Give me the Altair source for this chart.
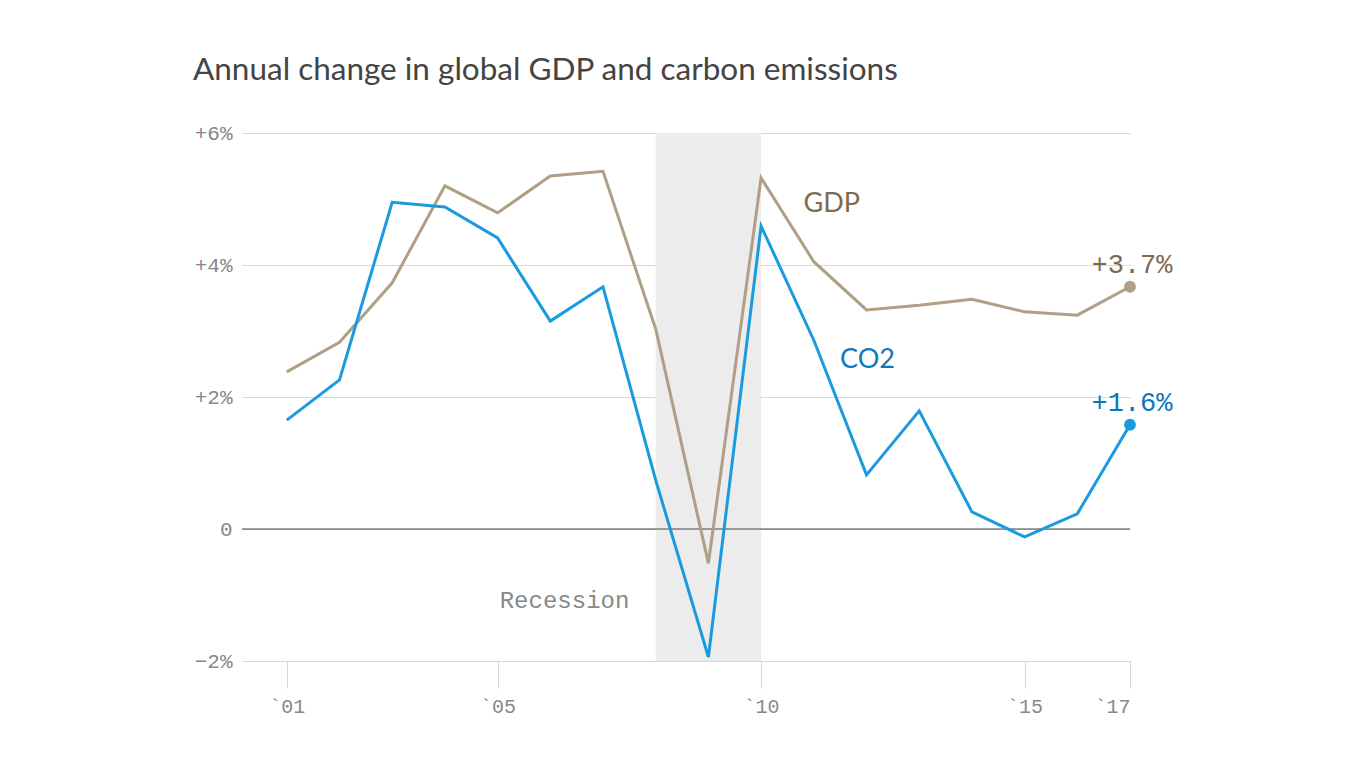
import altair as alt
import pandas as pd

years = list(range(2001, 2018))
gdp = [2.38, 2.83, 3.73, 5.20, 4.79, 5.35, 5.42, 3.03, -0.52, 5.32, 4.05, 3.32, 3.39, 3.48, 3.29, 3.24, 3.67]
co2 = [1.65, 2.26, 4.95, 4.88, 4.41, 3.15, 3.67, 0.74, -1.94, 4.59, 2.86, 0.82, 1.79, 0.26, -0.12, 0.23, 1.58]

x_ticks = [2001, 2005, 2010, 2015, 2017]
y_ticks = [-2, 0, 2, 4, 6]
recession = {"start": 2008, "end": 2010}

GDP_C = "#b09e87"
GDP_T = "#7e6a50"
CO2_C = "#1a9be0"
CO2_T = "#0b78bd"
MONO = "Liberation Mono"
SANS = "Lato"

lines = pd.DataFrame(
    [{"year": y, "value": v, "series": "GDP", "lc": GDP_C, "tc": GDP_T} for y, v in zip(years, gdp)]
    + [{"year": y, "value": v, "series": "CO2", "lc": CO2_C, "tc": CO2_T} for y, v in zip(years, co2)]
)
ends = lines[lines["year"] == years[-1]].copy()
ends["label"] = ends["value"].map(lambda v: f"+{v:.1f}%")

xs = alt.Scale(domain=[2000.15, 2017], nice=False, zero=False)
ys = alt.Scale(domain=[-2, 6], nice=False)

xaxis = alt.Axis(
    values=x_ticks, labelExpr="'`' + slice(toString(datum.value), 2)",
    title=None, domain=False, grid=False, ticks=True, tickSize=27,
    tickColor="#d6d6d6", tickWidth=1, labelFont=MONO, labelFontSize=20,
    labelColor="#888888", labelPadding=8,
)
yaxis = alt.Axis(
    values=y_ticks,
    labelExpr="datum.value > 0 ? '+' + datum.value + '%' : (datum.value == 0 ? '0' : '\u2212' + abs(datum.value) + '%')",
    title=None, domain=False, ticks=False, grid=True, gridColor="#d9d9d9",
    gridWidth=1, labelFont=MONO, labelFontSize=21, labelColor="#888888",
    labelPadding=10,
)

rect = alt.Chart(pd.DataFrame([{"x": recession["start"], "x2": recession["end"], "y": -2, "y2": 6}])).mark_rect(
    color="#ececec"
).encode(
    x=alt.X("x:Q", scale=xs, axis=xaxis),
    x2="x2:Q",
    y=alt.Y("y:Q", scale=ys, axis=yaxis),
    y2="y2:Q",
)

zero = alt.Chart(pd.DataFrame([{"y": 0, "x": 2000.15, "x2": 2017}])).mark_rule(
    color="#444444", strokeWidth=1
).encode(x=alt.X("x:Q", scale=xs), x2="x2:Q", y=alt.Y("y:Q", scale=ys))

line = alt.Chart(lines).mark_line(strokeWidth=3).encode(
    x=alt.X("year:Q", scale=xs),
    y=alt.Y("value:Q", scale=ys),
    detail="series:N",
    color=alt.Color("lc:N", scale=None),
)

dots = alt.Chart(ends).mark_circle(size=140, opacity=1).encode(
    x=alt.X("year:Q", scale=xs),
    y=alt.Y("value:Q", scale=ys),
    color=alt.Color("lc:N", scale=None),
)

end_labels = alt.Chart(ends).mark_text(font=MONO, fontSize=27, dy=-22, dx=2, baseline="middle").encode(
    x=alt.X("year:Q", scale=xs),
    y=alt.Y("value:Q", scale=ys),
    text="label:N",
    color=alt.Color("tc:N", scale=None),
)

series_labels = pd.DataFrame([
    {"x": 2011.34, "y": 4.92, "text": "GDP", "tc": GDP_T},
    {"x": 2012.02, "y": 2.56, "text": "CO2", "tc": CO2_T},
])
name_text = alt.Chart(series_labels).mark_text(font=SANS, fontSize=27, baseline="middle").encode(
    x=alt.X("x:Q", scale=xs),
    y=alt.Y("y:Q", scale=ys),
    text="text:N",
    color=alt.Color("tc:N", scale=None),
)

rec_text = alt.Chart(pd.DataFrame([{"x": 2006.27, "y": -1.09, "text": "Recession"}])).mark_text(
    font=MONO, fontSize=24, color="#888888", baseline="middle"
).encode(x=alt.X("x:Q", scale=xs), y=alt.Y("y:Q", scale=ys), text="text:N")

title = alt.Chart(pd.DataFrame([{"t": "Annual change in global GDP and carbon emissions"}])).mark_text(
    font=SANS, fontSize=31.5, color="#444444", align="left", baseline="alphabetic"
).encode(x=alt.value(-49), y=alt.value(-53), text="t:N")

chart = alt.layer(rect, zero, line, dots, end_labels, name_text, rec_text, title).properties(
    width=888, height=528,
    padding={"left": 242, "top": 133, "right": 236, "bottom": 107},
    autosize=alt.AutoSizeParams(type="none"),
).configure(background="white").configure_view(strokeWidth=0, stroke=None)

chart.save("out.html", embed_options={"renderer": "svg", "actions": False})
